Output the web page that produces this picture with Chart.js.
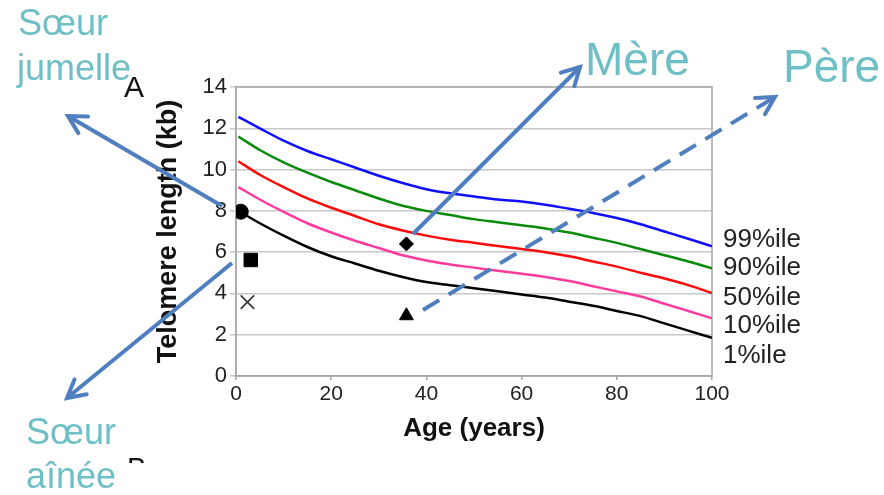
<!DOCTYPE html>
<html>
<head>
<meta charset="utf-8">
<script src="https://cdn.jsdelivr.net/npm/chart.js@4.4.0/dist/chart.umd.min.js"></script>
<style>
  html,body{margin:0;padding:0;background:#fff;}
  #wrap{width:884px;height:495px;position:relative;}
</style>
</head>
<body>
<div id="wrap"><canvas id="c" width="884" height="495"></canvas></div>
<script>
// ---- Data ----
const ages = [0.5,5,10,15,20,25,30,35,40,45,50,55,60,65,70,75,80,85,90,95,100];
const p99 = [12.55,12.0,11.4,10.9,10.5,10.1,9.7,9.35,9.05,8.85,8.7,8.55,8.45,8.3,8.1,7.9,7.65,7.35,7.0,6.65,6.28];
const p90 = [11.6,10.95,10.35,9.85,9.4,9.0,8.6,8.25,8.0,7.8,7.6,7.45,7.3,7.15,6.95,6.7,6.45,6.15,5.85,5.55,5.22];
const p50 = [10.4,9.75,9.15,8.6,8.15,7.75,7.35,7.05,6.8,6.6,6.45,6.3,6.15,6.0,5.8,5.55,5.3,5.0,4.72,4.4,4.02];
const p10 = [9.15,8.55,7.95,7.4,6.95,6.55,6.2,5.85,5.6,5.4,5.25,5.1,4.95,4.8,4.6,4.35,4.1,3.85,3.5,3.15,2.8];
const p1  = [8.0,7.4,6.8,6.25,5.8,5.45,5.1,4.8,4.55,4.4,4.25,4.1,3.95,3.8,3.6,3.4,3.15,2.9,2.55,2.2,1.85];
const curveLabels = ['99%ile','90%ile','50%ile','10%ile','1%ile'];
const curveColors = ['#1010ff','#0a8a0a','#ff0a0a','#ff3c9e','#000000'];

// Individual measurements: [age, telomere length]
const twinSister  = [1.0, 7.96];   // circle
const olderSister = [3.1, 5.62];   // square
const crossPoint  = [2.4, 3.58];   // x
const mother      = [35.8, 6.4];   // diamond
const father      = [35.8, 2.92];  // triangle

const xTicks = [0,20,40,60,80,100];
const yTicks = [0,2,4,6,8,10,12,14];

// ---- Build datasets ----
const series = [p99,p90,p50,p10,p1];
const datasets = series.map((vals,i)=>({
  label: curveLabels[i],
  data: ages.map((a,j)=>({x:a,y:vals[j]})),
  borderColor: curveColors[i],
  borderWidth: 2.5,
  pointRadius: 0,
  fill: false,
  cubicInterpolationMode: 'monotone'
}));
function pt(p, style, r, extra){
  return Object.assign({
    data:[{x:p[0],y:p[1]}], showLine:false, pointStyle:style, pointRadius:r,
    pointBackgroundColor:'#000', pointBorderColor:'#000', pointBorderWidth:1
  }, extra||{});
}
datasets.push(pt(twinSister,'circle',7.5,{label:'Sœur jumelle'}));
datasets.push(pt(olderSister,'rect',9.5,{label:'Sœur aînée'}));
datasets.push(pt(crossPoint,'crossRot',9.5,{label:'x', pointBorderWidth:1.6, pointBorderColor:'#333'}));
datasets.push(pt(mother,'rectRot',7,{label:'Mère'}));
datasets.push(pt(father,'triangle',8,{label:'Père'}));

const FONT = "'Liberation Sans', Arial, sans-serif";
const TEAL = '#6fbfc6';
const ARROW = '#4f7fbf';

function arrow(ctx,x1,y1,x2,y2,dashed){
  ctx.save();
  ctx.strokeStyle = ARROW;
  ctx.lineWidth = 4;
  ctx.lineCap = 'butt';
  if(dashed) ctx.setLineDash([19,11]);
  ctx.beginPath(); ctx.moveTo(x1,y1); ctx.lineTo(x2,y2); ctx.stroke();
  ctx.setLineDash([]);
  const ang = Math.atan2(y2-y1,x2-x1);
  const L = 20, a = 0.5;
  ctx.lineCap = 'round';
  ctx.lineJoin = 'miter';
  ctx.beginPath();
  ctx.moveTo(x2 - L*Math.cos(ang-a), y2 - L*Math.sin(ang-a));
  ctx.lineTo(x2,y2);
  ctx.lineTo(x2 - L*Math.cos(ang+a), y2 - L*Math.sin(ang+a));
  ctx.stroke();
  ctx.restore();
}

const overlay = {
  id:'overlay',
  beforeDatasetsDraw(chart){
    const {ctx, chartArea:ca} = chart;
    ctx.save();
    ctx.strokeStyle = '#a8a8a8';
    ctx.lineWidth = 1.5;
    ctx.strokeRect(ca.left, ca.top, ca.right-ca.left, ca.bottom-ca.top);
    ctx.restore();
  },
  afterDraw(chart){
    const ctx = chart.ctx;
    ctx.save();
    // percentile labels
    ctx.fillStyle = '#222';
    ctx.font = '26px ' + FONT;
    ctx.textBaseline = 'alphabetic';
    ctx.textAlign = 'left';
    const bases = [247,275,305,333,363];
    curveLabels.forEach((t,i)=>ctx.fillText(t,723,bases[i]));
    // panel letters
    ctx.font = '29px ' + FONT;
    ctx.fillStyle = '#111';
    ctx.save();
    ctx.beginPath(); ctx.rect(120,440,40,23); ctx.clip();
    ctx.fillText('B',127,478);
    ctx.restore();
    // arrows
    arrow(ctx,222,206,68,116,false);
    arrow(ctx,232,263,67,398,false);
    arrow(ctx,413,234,580,67,false);
    arrow(ctx,423,310,775,97,true);
    // annotation texts
    ctx.fillStyle = TEAL;
    ctx.font = '36px ' + FONT;
    ctx.fillText('Sœur',18,35);
    ctx.fillText('jumelle',17,80);
    ctx.fillText('Sœur',26,444);
    ctx.fillText('aînée',26,488);
    ctx.font = '46px ' + FONT;
    ctx.fillText('Mère',585,75);
    ctx.fillText('Père',783,82);
    ctx.fillStyle = '#111';
    ctx.font = '30px ' + FONT;
    ctx.fillText('A',124,97);
    ctx.restore();
  }
};

new Chart(document.getElementById('c'), {
  type:'line',
  data:{datasets},
  plugins:[overlay],
  options:{
    responsive:false,
    animation:false,
    devicePixelRatio:1,
    layout:{padding:{left:148,right:172,top:87,bottom:47}},
    plugins:{legend:{display:false}, tooltip:{enabled:false}},
    scales:{
      x:{
        type:'linear', min:0, max:100,
        afterFit(s){ s.height = 72; },
        afterBuildTicks(s){ s.ticks = xTicks.map(v=>({value:v})); },
        ticks:{font:{family:FONT,size:21}, color:'#222', padding:2, maxRotation:0},
        grid:{drawOnChartArea:false, drawTicks:true, tickLength:4, color:'#a8a8a8', lineWidth:1.5},
        border:{color:'#a8a8a8', width:1.5},
        title:{display:true, text:'Age (years)', color:'#111', font:{family:FONT,size:26,weight:'bold'}, padding:{top:4,bottom:4}}
      },
      y:{
        type:'linear', min:0, max:14,
        afterFit(s){ s.width = 88; },
        afterBuildTicks(s){ s.ticks = yTicks.map(v=>({value:v})); },
        ticks:{font:{family:FONT,size:22}, color:'#222', padding:3},
        grid:{color:'#c8c8c8', lineWidth:1.5, tickLength:6, drawTicks:true},
        border:{color:'#a8a8a8', width:1.5},
        title:{display:true, text:'Telomere length (kb)', color:'#111', font:{family:FONT,size:27,weight:'bold'}, padding:{top:4,bottom:4}}
      }
    }
  }
});
</script>
</body>
</html>
